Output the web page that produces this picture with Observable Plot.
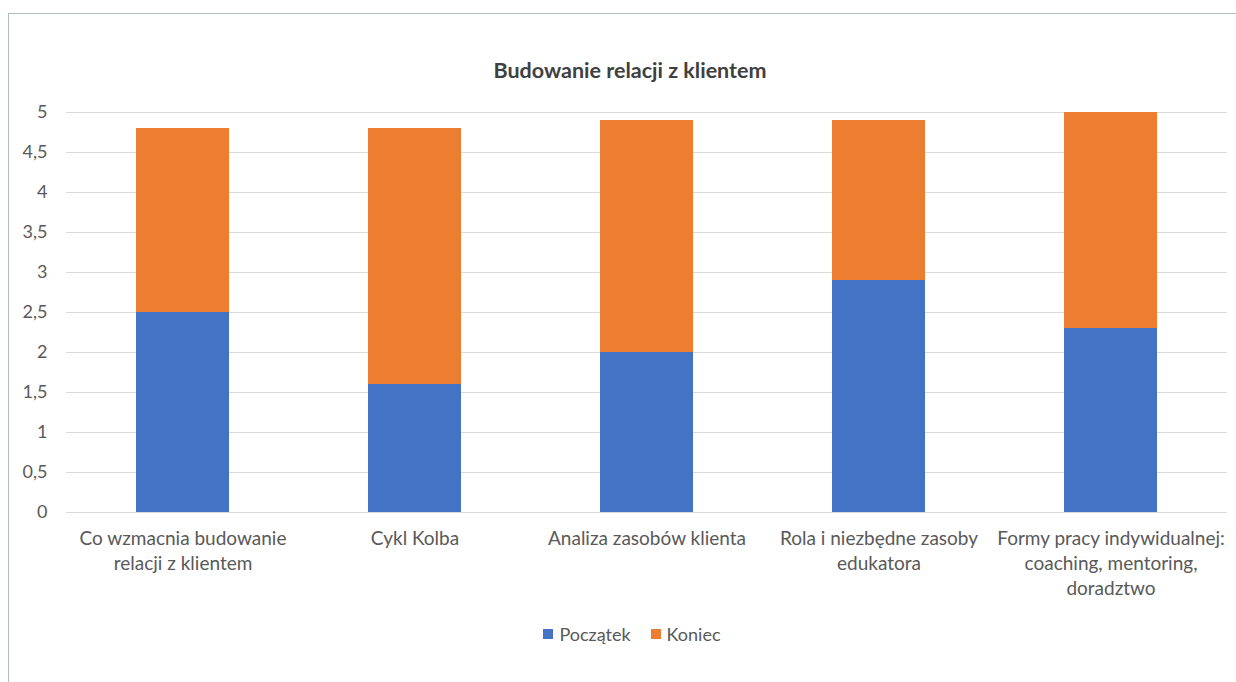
<!DOCTYPE html>
<html>
<head>
<meta charset="utf-8">
<script src="https://cdn.jsdelivr.net/npm/d3@7"></script>
<script src="https://cdn.jsdelivr.net/npm/@observablehq/plot@0.6"></script>
<style>
  html, body { margin: 0; padding: 0; background: #fff; }
  body { width: 1236px; height: 682px; position: relative; overflow: hidden; font-family: Lato, "Open Sans", sans-serif; color: #595959; }
  #frame { position: absolute; left: 8px; top: 13px; right: -2px; bottom: -2px; border-top: 1px solid #b4bcc4; border-left: 1px solid #b4bcc4; }
  #title { position: absolute; left: 0; width: 1260px; top: 57px; text-align: center; font-size: 21.5px; font-weight: bold; color: #404040; }
  #chart { position: absolute; left: 0; top: 100px; }
  #legend { position: absolute; left: 0; width: 1264px; top: 623px; display: flex; justify-content: center; gap: 20px; font-size: 18px; }
  #legend span.item { display: inline-flex; align-items: center; gap: 6px; }
  #legend i { display: inline-block; width: 10px; height: 10px; }
</style>
</head>
<body>
<div id="frame"></div>
<div id="title">Budowanie relacji z klientem</div>
<div id="chart"></div>
<div id="legend"></div>
<script>
// Topics covered in the training
const categories = [
  "Co wzmacnia budowanie relacji z klientem",
  "Cykl Kolba",
  "Analiza zasobów klienta",
  "Rola i niezbędne zasoby edukatora",
  "Formy pracy indywidualnej: coaching, mentoring, doradztwo"
];
// Category labels as they are broken into lines under the axis
const categoryLabels = [
  "Co wzmacnia budowanie\nrelacji z klientem",
  "Cykl Kolba",
  "Analiza zasobów klienta",
  "Rola i niezbędne zasoby\nedukatora",
  "Formy pracy indywidualnej:\ncoaching, mentoring,\ndoradztwo"
];
const seriesNames = ["Początek", "Koniec"];
const seriesColors = ["#4472C4", "#ED7D31"];
const poczatek = [2.5, 1.6, 2.0, 2.9, 2.3];
const koniec = [2.3, 3.2, 2.9, 2.0, 2.7];
const yTicks = [0, 0.5, 1, 1.5, 2, 2.5, 3, 3.5, 4, 4.5, 5];

const rows = [];
categories.forEach((c, i) => {
  rows.push({category: c, series: seriesNames[0], value: poczatek[i]});
  rows.push({category: c, series: seriesNames[1], value: koniec[i]});
});
const labelOf = new Map(categories.map((c, i) => [c, categoryLabels[i]]));
const fmt = d => String(d).replace(".", ",");

const chart = Plot.plot({
  width: 1236,
  height: 520,
  marginTop: 12,
  marginBottom: 108,
  marginLeft: 66,
  marginRight: 9,
  style: {fontFamily: "Lato, 'Open Sans', sans-serif", color: "#595959", background: "transparent"},
  x: {type: "band", domain: categories, paddingInner: 0.6, paddingOuter: 0.3, axis: null},
  y: {domain: [0, 5], axis: null},
  color: {domain: seriesNames, range: seriesColors},
  marks: [
    Plot.ruleY(yTicks, {stroke: "#d9d9d9", strokeWidth: 1.2}),
    Plot.barY(rows, {x: "category", y: "value", fill: "series"}),
    Plot.text(yTicks, {
      y: d => d, frameAnchor: "left", dx: -19, textAnchor: "end",
      text: fmt, fontSize: 18, fill: "#595959"
    }),
    Plot.text(categories, {
      x: d => d, frameAnchor: "bottom", lineAnchor: "top", dy: 14,
      text: d => labelOf.get(d), lineHeight: 1.34, fontSize: 19, fill: "#595959"
    })
  ]
});
document.getElementById("chart").appendChild(chart);

const legend = document.getElementById("legend");
seriesNames.forEach((name, i) => {
  const item = document.createElement("span");
  item.className = "item";
  const sw = document.createElement("i");
  sw.style.background = seriesColors[i];
  item.appendChild(sw);
  item.appendChild(document.createTextNode(name));
  legend.appendChild(item);
});
</script>
</body>
</html>
